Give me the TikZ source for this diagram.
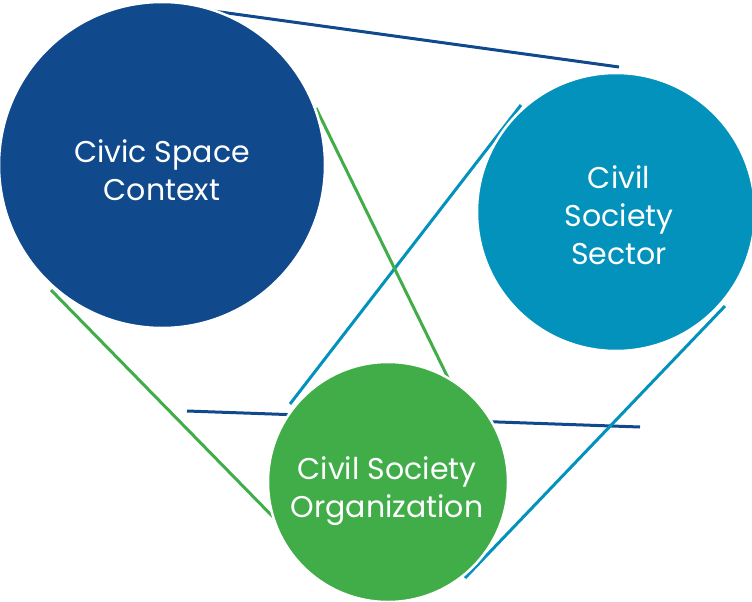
\documentclass[tikz,border=0pt]{standalone}
\usepackage{fontspec}
\setmainfont{Poppins}
\definecolor{cdark}{HTML}{114A8C}
\definecolor{cteal}{HTML}{0392BB}
\definecolor{cgreen}{HTML}{41AD49}
\begin{document}
\begin{tikzpicture}[x=1pt,y=-1pt,
  blob/.style={circle,draw=white,line width=2.5pt,inner sep=0pt},
  lbl/.style={text=white,align=center,inner sep=0pt,font=\fontsize{30}{38}\selectfont},
  link/.style={line width=3pt}]
\useasboundingbox (0,0) rectangle (752,602);
% connectors
\coordinate (d1) at (213,11);  \coordinate (d2) at (619,67);
\coordinate (d3) at (187,411); \coordinate (d4) at (640,427);
\coordinate (t1) at (521,105); \coordinate (t2) at (290,404);
\coordinate (t3) at (725,306); \coordinate (t4) at (465,578);
\coordinate (g1) at (316,108); \coordinate (g2) at (452,386);
\coordinate (g3) at (51,290);  \coordinate (g4) at (280,524);
\draw[link,cdark] (d1) -- (d2);
\draw[link,cdark] (d3) -- (d4);
\draw[link,cteal] (t1) -- (t2);
\draw[link,cteal] (t3) -- (t4);
\draw[link,cgreen] (g1) -- (g2);
\draw[link,cgreen] (g3) -- (g4);
% circles
\node[blob,fill=cdark,minimum size=326pt] (ctx) at (162,165) {};
\node[blob,fill=cteal,minimum size=278pt] (sec) at (616,212) {};
\node[blob,fill=cgreen,minimum size=240pt] (org) at (388,482) {};
% labels
\node[lbl] (ctxl) at (162,170) {Civic Space\\Context};
\node[lbl] (secl) at (619,215) {Civil\\Society\\Sector};
\node[lbl] (orgl) at (387,491) {Civil Society\\Organization};
\end{tikzpicture}
\end{document}
